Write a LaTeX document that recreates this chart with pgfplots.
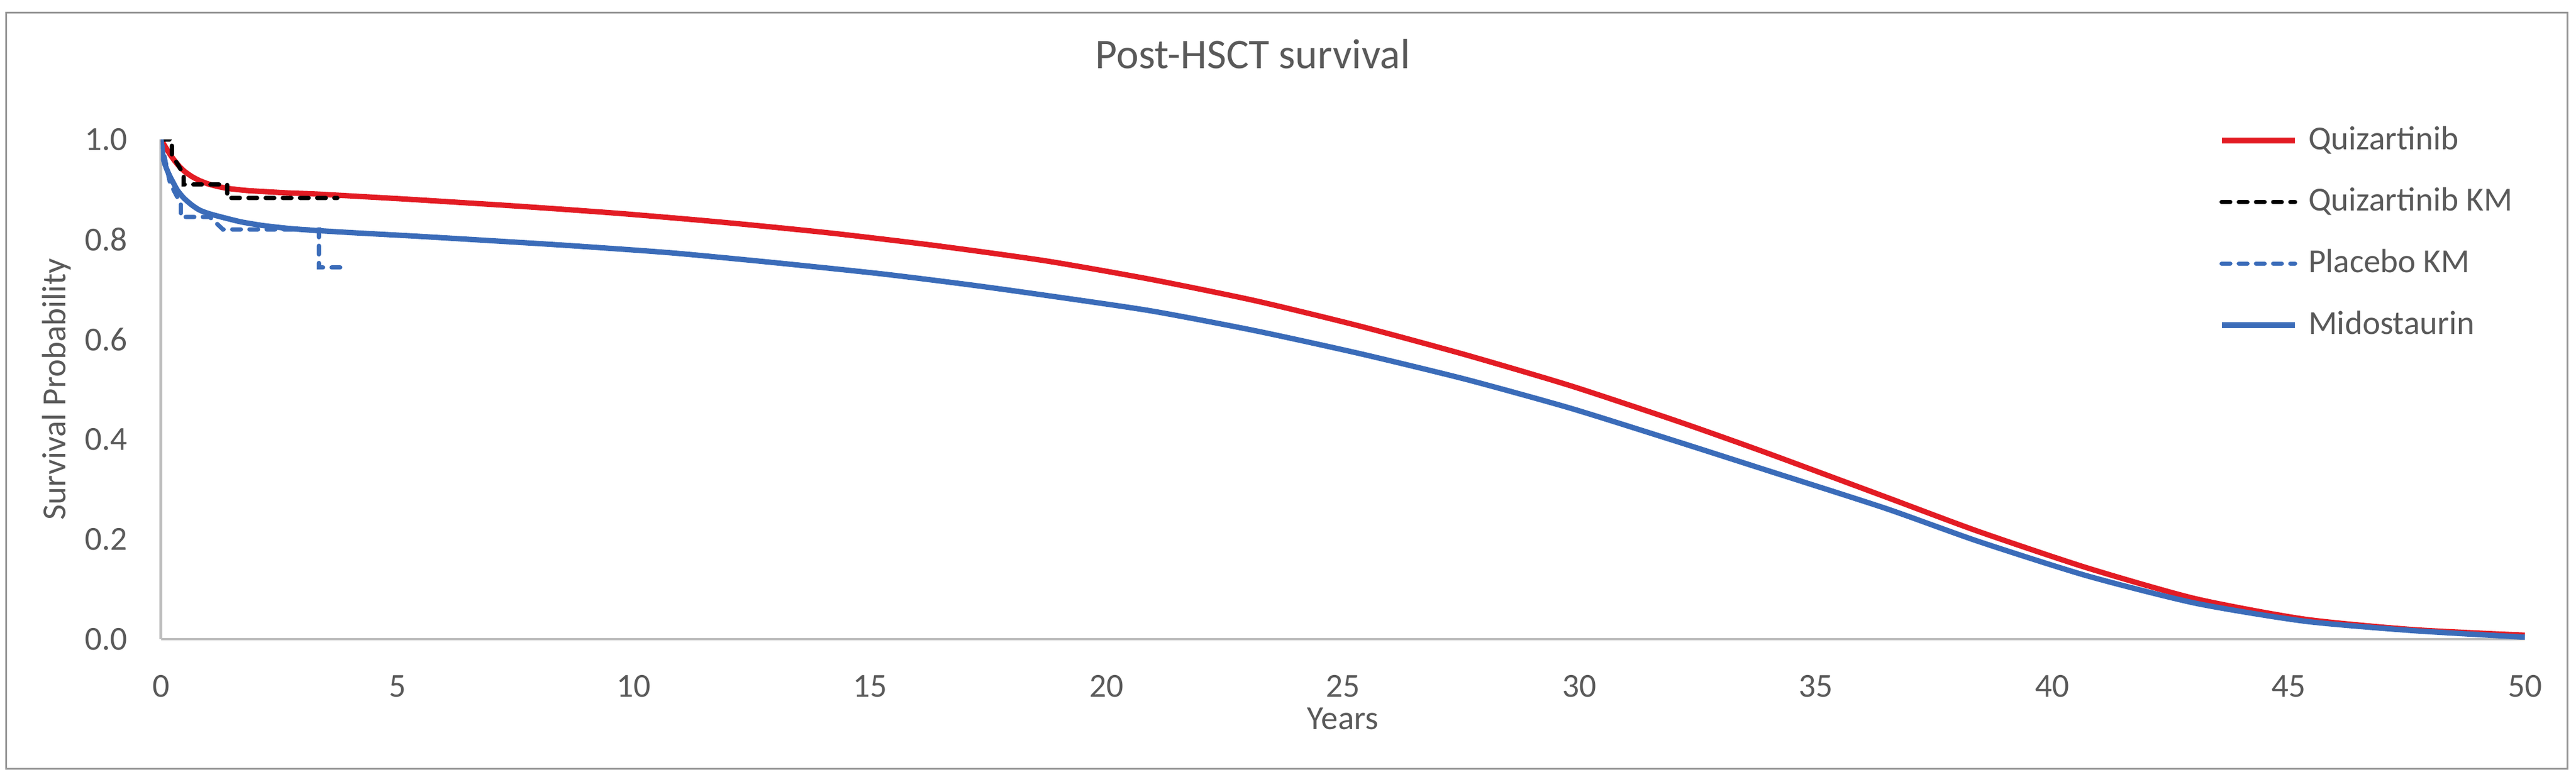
\documentclass[border=0pt]{standalone}
\usepackage{fontspec}
\setmainfont{Carlito}
\usepackage{pgfplots}
\pgfplotsset{compat=1.18}
\definecolor{txtgray}{RGB}{89,89,89}
\definecolor{axgray}{RGB}{191,191,191}
\definecolor{bordergray}{RGB}{150,150,150}
\definecolor{quizred}{RGB}{227,28,36}
\definecolor{midoblue}{RGB}{59,108,185}

\begin{document}
\begin{tikzpicture}
  \path[use as bounding box] (-45pt,-39.8pt) rectangle (675pt,178.7pt);
  \draw[bordergray, line width=0.5pt] (-43.2pt,-36.3pt) rectangle (672.6pt,175.1pt);
  \begin{axis}[
    at={(0pt,0pt)}, anchor=south west,
    scale only axis, width=660.7pt, height=139.7pt,
    xmin=0, xmax=50, ymin=0, ymax=1,
    axis x line=bottom, axis y line=left,
    axis line style={-, draw=axgray, line width=0.75pt},
    xtick={0,5,...,50}, ytick={0,0.2,0.4,0.6,0.8,1.0},
    major tick length=0pt,
    tick style={draw=none},
    /pgf/number format/assume math mode=true,
    ticklabel style={font=\fontsize{9.4}{11}\selectfont, text=txtgray, inner sep=0pt},
    xticklabel style={anchor=north, yshift=-9.9pt},
    yticklabel style={anchor=east, xshift=-9.2pt,
      /pgf/number format/fixed, /pgf/number format/fixed zerofill,
      /pgf/number format/precision=1},
    xlabel={Years},
    ylabel={Survival Probability},
    label style={font=\fontsize{9.4}{11}\selectfont, text=txtgray, inner sep=0pt},
    xlabel style={at={(axis description cs:0.5,-0.1804)}, anchor=base},
    ylabel style={at={(axis description cs:-0.0404,0.5)}, anchor=base},
    title={Post-HSCT survival},
    title style={at={(axis description cs:0.4619,1.0988)}, anchor=base,
      font=\fontsize{11.8}{14}\selectfont, text=txtgray, inner sep=0pt},
    legend cell align=left,
    legend image code/.code={\draw[#1] (0pt,0pt) -- (20.5pt,0pt);},
    legend style={at={(axis description cs:0.8703,1.0315)}, anchor=north west,
      draw=none, fill=none, inner sep=0pt, row sep=8.2pt, column sep=3pt,
      font=\fontsize{9.4}{11}\selectfont, text=txtgray,
      nodes={inner sep=0pt, text height=7pt, text depth=2pt}},
  ]

  % fitted curve, quizartinib
  \addplot[quizred, line width=1.5pt, line join=round, smooth, tension=0.4] table {
    x      y
    0      1.000
    0.1    0.984
    0.2    0.969
    0.3    0.956
    0.4    0.945
    0.5    0.936
    0.65   0.926
    0.81   0.918
    1.0    0.911
    1.2    0.906
    1.42   0.902
    1.8    0.898
    2.14   0.896
    2.7    0.893
    3.26   0.891
    4.2    0.886
    5.3    0.880
    7.48   0.867
    9.70   0.852
    11.92  0.834
    14.14  0.813
    16.36  0.788
    18.72  0.757
    20.94  0.720
    23.16  0.677
    25.38  0.626
    27.6   0.569
    29.82  0.507
    32.05  0.437
    33.9   0.375
    36.47  0.285
    38.43  0.216
    40.73  0.143
    43.03  0.081
    45.34  0.040
    47.65  0.019
    50     0.008
  };
  \addlegendentry{Quizartinib}

  % KM, quizartinib arm
  \addplot[black, line width=1.2pt, line cap=round, dash pattern=on 2.4pt off 2.4pt] table {
    x      y
    0      1.000
    0.23   1.000
    0.23   0.970
    0.48   0.930
    0.48   0.910
    1.40   0.910
    1.40   0.883
    3.73   0.883
  };
  \addlegendentry{Quizartinib KM}

  % KM, placebo arm
  \addplot[midoblue, line width=1.2pt, line cap=round, dash pattern=on 2.4pt off 2.4pt] table {
    x      y
    0      1.000
    0.19   0.913
    0.42   0.871
    0.42   0.845
    1.03   0.845
    1.31   0.820
    3.34   0.820
    3.34   0.744
    3.87   0.744
  };
  \addlegendentry{Placebo KM}

  % fitted curve, midostaurin
  \addplot[midoblue, line width=1.5pt, line join=round, smooth, tension=0.4] table {
    x      y
    0      1.000
    0.05   0.962
    0.1    0.946
    0.146  0.935
    0.2    0.924
    0.256  0.914
    0.35   0.898
    0.48   0.883
    0.65   0.869
    0.81   0.859
    1.0    0.852
    1.31   0.844
    1.7    0.835
    2.14   0.828
    2.7    0.822
    3.26   0.818
    4.14   0.813
    5.3    0.807
    6.37   0.801
    8.59   0.788
    10.81  0.773
    13.03  0.753
    15.25  0.731
    17.12  0.709
    18.72  0.688
    20.94  0.657
    23.16  0.617
    25.38  0.571
    27.6   0.520
    29.82  0.462
    32.05  0.396
    33.9   0.340
    36.47  0.262
    38.43  0.196
    40.73  0.127
    43.03  0.072
    45.34  0.036
    47.65  0.017
    50     0.004
  };
  \addlegendentry{Midostaurin}

  \end{axis}
\end{tikzpicture}
\end{document}
